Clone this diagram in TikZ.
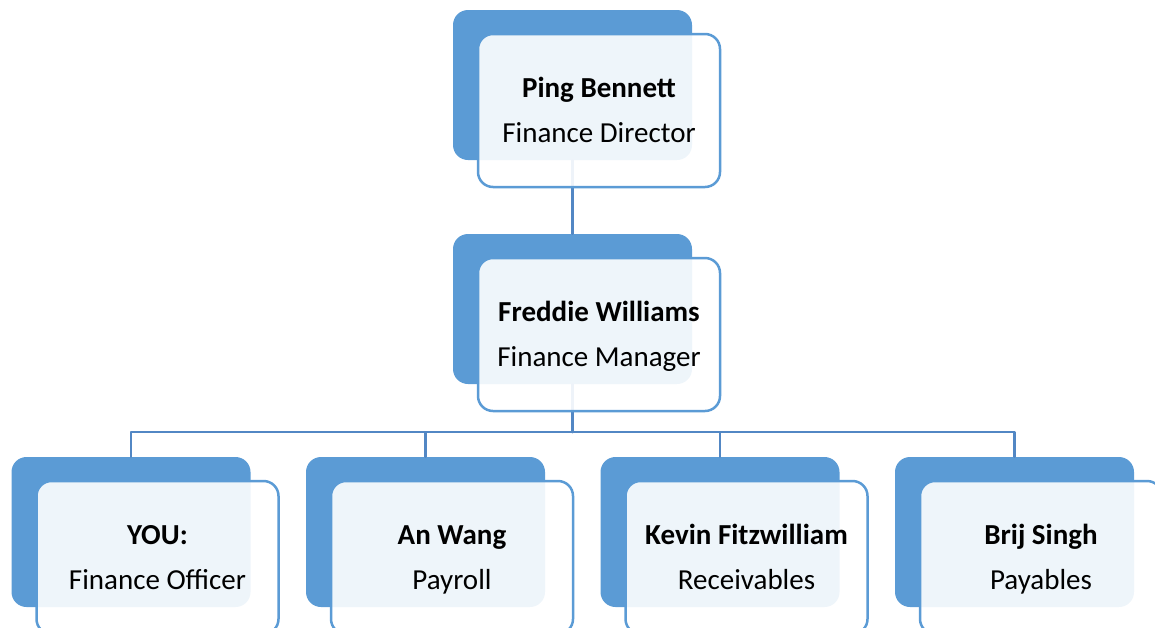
\documentclass[tikz,border=0pt]{standalone}
\usepackage{fontspec}
\setmainfont{Carlito}
\definecolor{boxblue}{HTML}{5B9BD5}
\definecolor{linkblue}{HTML}{5287C4}
\begin{document}
\begin{tikzpicture}[x=1pt, y=-1pt, line join=round, line cap=round,
	back/.style={rectangle, rounded corners=15pt, fill=boxblue, minimum width=239pt, minimum height=150pt, inner sep=0pt},
	front/.style={rectangle, rounded corners=15pt, draw=boxblue, line width=2.5pt, fill=white, fill opacity=0.9, text opacity=1,
		minimum width=242pt, minimum height=153pt, inner sep=0pt, align=center, font=\fontsize{29}{45}\selectfont},
	link/.style={draw=linkblue, line width=2.5pt}]
	\clip (0,0) rectangle (1155,627);
	\foreach \x/\y/\n in {572.5/85/pb, 572.5/309/fw, 131/532/you, 425.5/532/aw, 720/532/kf, 1014.5/532/bs}{
		\node[back] (\n-b) at (\x,\y) {};
	}
	\path (fw-b.south) ++(0,48) coordinate (bus);
	\draw[link] (pb-b.south) -- (fw-b.north);
	\draw[link] (fw-b.south) -- (bus);
	\foreach \n in {you, aw, kf, bs}{
		\draw[link] (bus) -| (\n-b.north);
	}
	\foreach \n/\a/\b in {pb/Ping Bennett/Finance Director, fw/Freddie Williams/Finance Manager, you/YOU:/Finance Officer,
		aw/An Wang/Payroll, kf/Kevin Fitzwilliam/Receivables, bs/Brij Singh/Payables}{
		\node[front] (\n) at ([shift={(26.5,25.5)}]\n-b.center) {\strut\textbf{\a}\\\strut\b};
	}
\end{tikzpicture}
\end{document}
